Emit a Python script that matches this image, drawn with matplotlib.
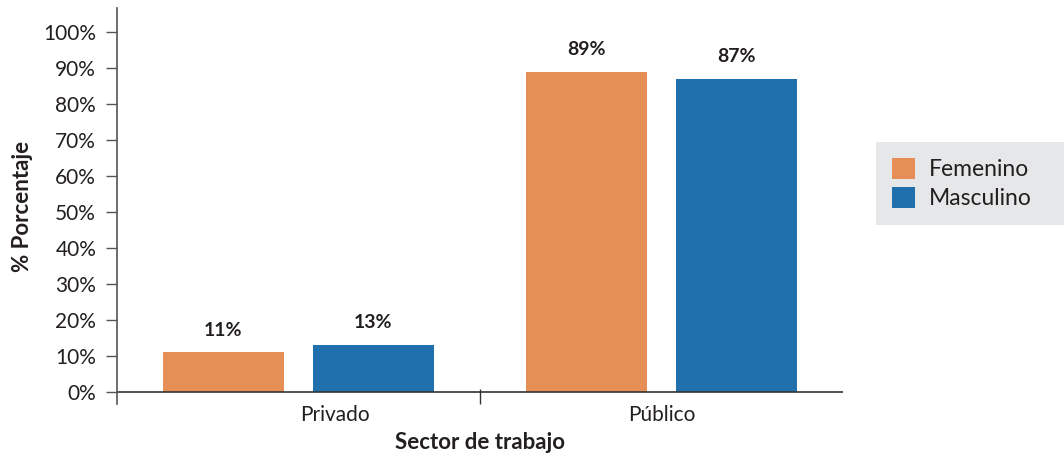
import matplotlib.pyplot as plt
import numpy as np

sectores = ['Privado', 'Público']
femenino = [11, 89]
masculino = [13, 87]
yticks = list(range(0, 101, 10))

plt.rcParams['font.family'] = ['Lato', 'DejaVu Sans']
txt = '#231f20'

fig = plt.figure(figsize=(10.64, 4.57), dpi=100)
ax = fig.add_axes([117/1064, 53/457, 726/1064, 396/457])

x = np.arange(len(sectores))
off = 0.2066
w = 0.333
b1 = ax.bar(x - off, femenino, w, color='#e58f57', label='Femenino')
b2 = ax.bar(x + off, masculino, w, color='#2070ae', label='Masculino')

for bars, vals in ((b1, femenino), (b2, masculino)):
    for r, v in zip(bars, vals):
        ax.annotate(f'{v}%', (r.get_x() + r.get_width()/2, v), xytext=(0, 10),
                    textcoords='offset points', ha='center', va='bottom',
                    fontsize=14, fontweight='bold', color=txt)

ax.set_xlim(-0.5, 1.5)
ax.set_ylim(-3.33, 106.67)
ax.axhline(0, color='#333333', lw=1.2)

ax.set_yticks(yticks)
ax.set_yticklabels([f'{t}%' for t in yticks], fontsize=15, color=txt)
ax.tick_params(axis='y', direction='out', length=8, width=1, color='#555555', pad=7)

# the reference sets the "Privado" label a bit right of its bar pair
ax.set_xticks([0.5], minor=True)
ax.set_xticks(x + np.array([0.1, 0.0]))
ax.set_xticklabels(sectores, fontsize=15, color=txt)
ax.tick_params(axis='x', which='major', length=0, pad=1)
ax.tick_params(axis='x', which='minor', direction='in', length=11, width=1, color='#333333')

for s in ['top', 'right', 'bottom']:
    ax.spines[s].set_visible(False)
ax.spines['left'].set_color('#555555')
ax.spines['left'].set_linewidth(1.2)

ax.set_ylabel('% Porcentaje', fontsize=16, fontweight='bold', color=txt, labelpad=7)
ax.set_xlabel('Sector de trabajo', fontsize=16, fontweight='bold', color=txt, labelpad=5)

leg = fig.legend(handles=[b1, b2], loc='upper left',
                 bbox_to_anchor=(876/1064, 235/457, 188/1064, 80/457), mode='expand',
                 frameon=True, fancybox=False, facecolor='#e6e7e8', edgecolor='none',
                 fontsize=16.5, handlelength=1.0, handleheight=1.0, borderaxespad=0,
                 borderpad=0.7, handletextpad=0.6, labelspacing=0.3)
for t in leg.get_texts():
    t.set_color(txt)
leg.get_frame().set_alpha(1)

fig.savefig('out.png', dpi=100)
